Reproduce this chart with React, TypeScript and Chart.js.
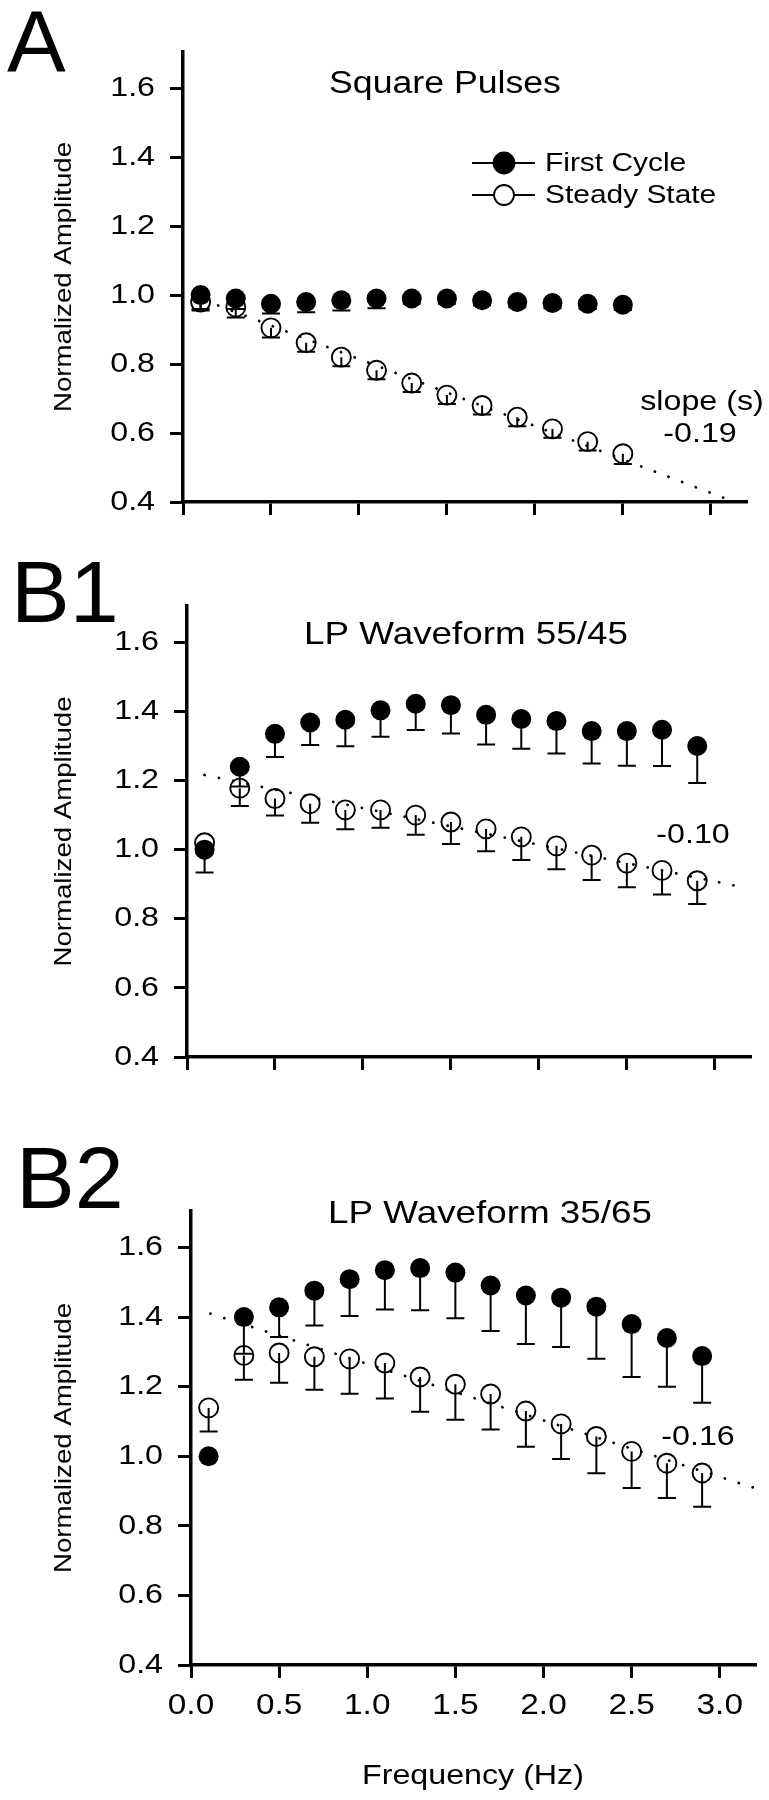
import React, { useEffect, useRef } from 'react';
import { Chart, registerables } from 'chart.js';

Chart.register(...registerables);

// ---------------- data ----------------
const yTickValues = [0.4, 0.6, 0.8, 1.0, 1.2, 1.4, 1.6];
const xTickValues = [0, 0.5, 1.0, 1.5, 2.0, 2.5, 3.0];
const seriesNames = ['First Cycle', 'Steady State'];
const xTitle = 'Frequency (Hz)';
const yTitle = 'Normalized Amplitude';

// Panel A: square pulses
const freqA = [0.1, 0.3, 0.5, 0.7, 0.9, 1.1, 1.3, 1.5, 1.7, 1.9, 2.1, 2.3, 2.5];
const firstA = [1.0, 0.99, 0.975, 0.98, 0.985, 0.99, 0.99, 0.99, 0.985, 0.98, 0.977, 0.975, 0.972];
const firstAErr = [0.04, 0.03, 0.028, 0.03, 0.03, 0.028, 0.015, 0.015, 0.015, 0.015, 0.015, 0.015, 0.015];
const steadyA = [0.98, 0.965, 0.905, 0.862, 0.82, 0.782, 0.745, 0.71, 0.68, 0.646, 0.612, 0.575, 0.54];
const steadyAErr = [0.025, 0.03, 0.028, 0.026, 0.026, 0.026, 0.026, 0.026, 0.026, 0.026, 0.026, 0.026, 0.03];
const fitAx = [0.2, 3.11];
const fitAy = [0.97, 0.405];

// Panel B1: LP waveform 55/45
const freqB = [0.1, 0.3, 0.5, 0.7, 0.9, 1.1, 1.3, 1.5, 1.7, 1.9, 2.1, 2.3, 2.5, 2.7, 2.9];
const firstB1 = [1.0, 1.24, 1.335, 1.368, 1.376, 1.403, 1.422, 1.418, 1.39, 1.378, 1.372, 1.343, 1.343, 1.347, 1.3];
const firstB1Err = [0.066, 0.057, 0.067, 0.065, 0.077, 0.076, 0.076, 0.082, 0.086, 0.086, 0.094, 0.094, 0.1, 0.105, 0.107];
const steadyB1 = [1.02, 1.178, 1.148, 1.133, 1.115, 1.115, 1.1, 1.08, 1.06, 1.037, 1.011, 0.984, 0.961, 0.94, 0.91];
const steadyB1Err = [0, 0.052, 0.049, 0.055, 0.056, 0.052, 0.057, 0.064, 0.065, 0.067, 0.068, 0.072, 0.07, 0.07, 0.067];
const fitB1x = [0.1, 3.14];
const fitB1y = [1.216, 0.893];

// Panel B2: LP waveform 35/65
const firstB2 = [1.0, 1.4, 1.428, 1.476, 1.509, 1.535, 1.541, 1.528, 1.491, 1.462, 1.456, 1.43, 1.38, 1.34, 1.288];
const firstB2Err = [0, 0.105, 0.085, 0.1, 0.106, 0.113, 0.121, 0.131, 0.131, 0.139, 0.142, 0.15, 0.152, 0.14, 0.134];
const steadyB2 = [1.139, 1.29, 1.297, 1.286, 1.28, 1.268, 1.228, 1.207, 1.179, 1.13, 1.093, 1.057, 1.014, 0.98, 0.952];
const steadyB2Err = [0.068, 0.07, 0.086, 0.095, 0.1, 0.102, 0.1, 0.102, 0.102, 0.103, 0.101, 0.106, 0.105, 0.1, 0.097];
const fitB2x = [0.11, 3.19];
const fitB2y = [1.41, 0.91];

// ---------------- layout / style ----------------
const W = 769;
const FONT = "'Liberation Sans', Arial, Helvetica, sans-serif";
const TEXT_STRETCH = 1.15;
const X_MIN = 0;
const X_MAX = 3.2;
const Y_MIN = 0.4;
const Y_MAX = 1.705;

type PanelSpec = {
  top: number; height: number;
  left: number; right: number; areaTop: number; areaBottom: number;
  letter: string; letterX: number; letterY: number;
  title: string; titleX: number; titleY: number; titleSize: number;
  freq: number[]; first: number[]; firstErr: number[]; steady: number[]; steadyErr: number[];
  fitX: number[]; fitY: number[];
  notes: { text: string; x: number; y: number }[];
  showXLabels: boolean; legend: boolean;
};

const panels: PanelSpec[] = [
  {
    top: 0, height: 550, left: 183, right: 746, areaTop: 52, areaBottom: 502,
    letter: 'A', letterX: 7, letterY: 72,
    title: 'Square Pulses', titleX: 445, titleY: 93, titleSize: 31,
    freq: freqA, first: firstA, firstErr: firstAErr, steady: steadyA, steadyErr: steadyAErr,
    fitX: fitAx, fitY: fitAy,
    notes: [{ text: 'slope (s)', x: 702, y: 410 }, { text: '-0.19', x: 700, y: 442 }],
    showXLabels: false, legend: true,
  },
  {
    top: 550, height: 540, left: 187, right: 750, areaTop: 56, areaBottom: 507,
    letter: 'B1', letterX: 11, letterY: 72,
    title: 'LP Waveform 55/45', titleX: 466, titleY: 94, titleSize: 32,
    freq: freqB, first: firstB1, firstErr: firstB1Err, steady: steadyB1, steadyErr: steadyB1Err,
    fitX: fitB1x, fitY: fitB1y,
    notes: [{ text: '-0.10', x: 693, y: 293 }],
    showXLabels: false, legend: false,
  },
  {
    top: 1090, height: 710, left: 191, right: 755, areaTop: 121, areaBottom: 575,
    letter: 'B2', letterX: 16, letterY: 118,
    title: 'LP Waveform 35/65', titleX: 490, titleY: 133, titleSize: 32,
    freq: freqB, first: firstB2, firstErr: firstB2Err, steady: steadyB2, steadyErr: steadyB2Err,
    fitX: fitB2x, fitY: fitB2y,
    notes: [{ text: '-0.16', x: 698, y: 355 }],
    showXLabels: true, legend: false,
  },
];

function stretchText(ctx: any) {
  if (ctx.__plainFillText) return;
  const plain = ctx.fillText;
  ctx.__plainFillText = plain;
  ctx.fillText = function (text: string, x: number, y: number) {
    this.save();
    this.translate(x, y);
    this.scale(TEXT_STRETCH, 1);
    plain.call(this, text, 0, 0);
    this.restore();
  };
}

function buildConfig(p: PanelSpec): any {
  const errorBars = {
    id: 'errorBars',
    beforeDatasetsDraw(chart: any) {
      const { ctx, scales } = chart;
      const xs = scales.x;
      const ys = scales.y;
      ctx.save();
      ctx.strokeStyle = '#000';
      ctx.lineWidth = 2;
      chart.data.datasets.forEach((ds: any) => {
        if (!ds.errMinus) return;
        ds.data.forEach((pt: any, i: number) => {
          const e = ds.errMinus[i];
          if (!e) return;
          const px = xs.getPixelForValue(pt.x);
          const py = ys.getPixelForValue(pt.y);
          const pe = ys.getPixelForValue(pt.y - e);
          ctx.beginPath();
          ctx.moveTo(px, py);
          ctx.lineTo(px, pe);
          ctx.moveTo(px - 9, pe);
          ctx.lineTo(px + 9, pe);
          ctx.stroke();
        });
      });
      ctx.restore();
    },
  };

  const overlay = {
    id: 'overlay',
    afterDraw(chart: any) {
      const ctx = chart.ctx;
      ctx.save();
      ctx.fillStyle = '#000';
      ctx.strokeStyle = '#000';
      // panel letter (unstretched)
      ctx.font = `88px ${FONT}`;
      ctx.textAlign = 'left';
      ctx.textBaseline = 'alphabetic';
      ctx.__plainFillText.call(ctx, p.letter, p.letterX, p.letterY);
      // panel title
      ctx.font = `${p.titleSize}px ${FONT}`;
      ctx.textAlign = 'center';
      ctx.fillText(p.title, p.titleX, p.titleY);
      // slope notes
      ctx.font = `28px ${FONT}`;
      p.notes.forEach((n) => ctx.fillText(n.text, n.x, n.y));
      // legend
      if (p.legend) {
        const rowsY = [163, 195];
        chart.data.datasets.slice(0, 2).forEach((ds: any, i: number) => {
          const yy = rowsY[i];
          ctx.lineWidth = 2;
          ctx.beginPath();
          ctx.moveTo(472, yy);
          ctx.lineTo(535, yy);
          ctx.stroke();
          ctx.beginPath();
          ctx.arc(504, yy, i === 0 ? 10.5 : 10, 0, Math.PI * 2);
          ctx.fillStyle = i === 0 ? '#000' : '#fff';
          ctx.fill();
          ctx.lineWidth = 1.8;
          ctx.stroke();
          ctx.fillStyle = '#000';
          ctx.font = `26px ${FONT}`;
          ctx.textAlign = 'left';
          ctx.textBaseline = 'middle';
          ctx.fillText(ds.label, 545, yy + 1);
        });
      }
      ctx.restore();
    },
  };

  const tickGrid = { display: true, drawOnChartArea: false, drawTicks: true, tickLength: 13, lineWidth: 3, color: '#000' };
  const border = { display: true, width: 3.5, color: '#000' };

  return {
    type: 'scatter',
    data: {
      datasets: [
        {
          label: seriesNames[0],
          data: p.freq.map((x, i) => ({ x, y: p.first[i] })),
          errMinus: p.firstErr,
          pointStyle: 'circle',
          pointRadius: 10,
          pointBackgroundColor: '#000',
          pointBorderColor: '#000',
          pointBorderWidth: 0,
          showLine: false,
        },
        {
          label: seriesNames[1],
          data: p.freq.map((x, i) => ({ x, y: p.steady[i] })),
          errMinus: p.steadyErr,
          pointStyle: 'circle',
          pointRadius: 9.5,
          pointBackgroundColor: 'rgba(0,0,0,0)',
          pointBorderColor: '#000',
          pointBorderWidth: 1.9,
          showLine: false,
        },
        {
          label: 'fit',
          data: p.fitX.map((x, i) => ({ x, y: p.fitY[i] })),
          showLine: true,
          borderColor: '#000',
          borderWidth: 2.8,
          borderDash: [0.1, 14.5],
          borderCapStyle: 'round',
          pointRadius: 0,
          fill: false,
          tension: 0,
        },
      ],
    },
    options: {
      responsive: false,
      animation: false,
      devicePixelRatio: 1,
      events: [],
      layout: { padding: { left: 0, top: p.areaTop, right: W - p.right, bottom: 0 } },
      plugins: {
        legend: { display: false },
        tooltip: { enabled: false },
        title: { display: false },
      },
      scales: {
        x: {
          type: 'linear',
          min: X_MIN,
          max: X_MAX,
          afterBuildTicks: (s: any) => { s.ticks = xTickValues.map((v) => ({ value: v })); },
          afterFit: (s: any) => { s.height = p.height - p.areaBottom; },
          ticks: {
            display: p.showXLabels,
            color: '#000',
            font: { family: FONT, size: 29, lineHeight: 1 },
            padding: 13.5,
            maxRotation: 0,
            autoSkip: false,
            callback: (v: any) => Number(v).toFixed(1),
          },
          grid: tickGrid,
          border,
          title: {
            display: p.showXLabels,
            text: xTitle,
            color: '#000',
            font: { family: FONT, size: 28 },
            padding: { top: 0, bottom: 7 },
          },
        },
        y: {
          type: 'linear',
          min: Y_MIN,
          max: Y_MAX,
          afterBuildTicks: (s: any) => { s.ticks = yTickValues.map((v) => ({ value: v })); },
          afterFit: (s: any) => { s.width = p.left; },
          ticks: {
            color: '#000',
            font: { family: FONT, size: 28, lineHeight: 1 },
            padding: 15,
            autoSkip: false,
            callback: (v: any) => Number(v).toFixed(1),
          },
          grid: tickGrid,
          border,
          title: {
            display: true,
            text: yTitle,
            color: '#000',
            font: { family: FONT, size: 24 },
            padding: { top: 50, bottom: 0 },
          },
        },
      },
    },
    plugins: [errorBars, overlay],
  };
}

function Panel({ p }: { p: PanelSpec }) {
  const ref = useRef<HTMLCanvasElement>(null);
  useEffect(() => {
    const canvas = ref.current as HTMLCanvasElement;
    const ctx = canvas.getContext('2d') as any;
    stretchText(ctx);
    const chart = new Chart(ctx, buildConfig(p));
    return () => chart.destroy();
  }, [p]);
  return (
    <canvas
      ref={ref}
      width={W}
      height={p.height}
      style={{ position: 'absolute', left: 0, top: p.top, width: W, height: p.height, display: 'block' }}
    />
  );
}

export default function App() {
  return (
    <div style={{ position: 'absolute', left: 0, top: 0, width: W, height: 1800, background: '#fff' }}>
      {panels.map((p, i) => (
        <Panel key={i} p={p} />
      ))}
    </div>
  );
}
